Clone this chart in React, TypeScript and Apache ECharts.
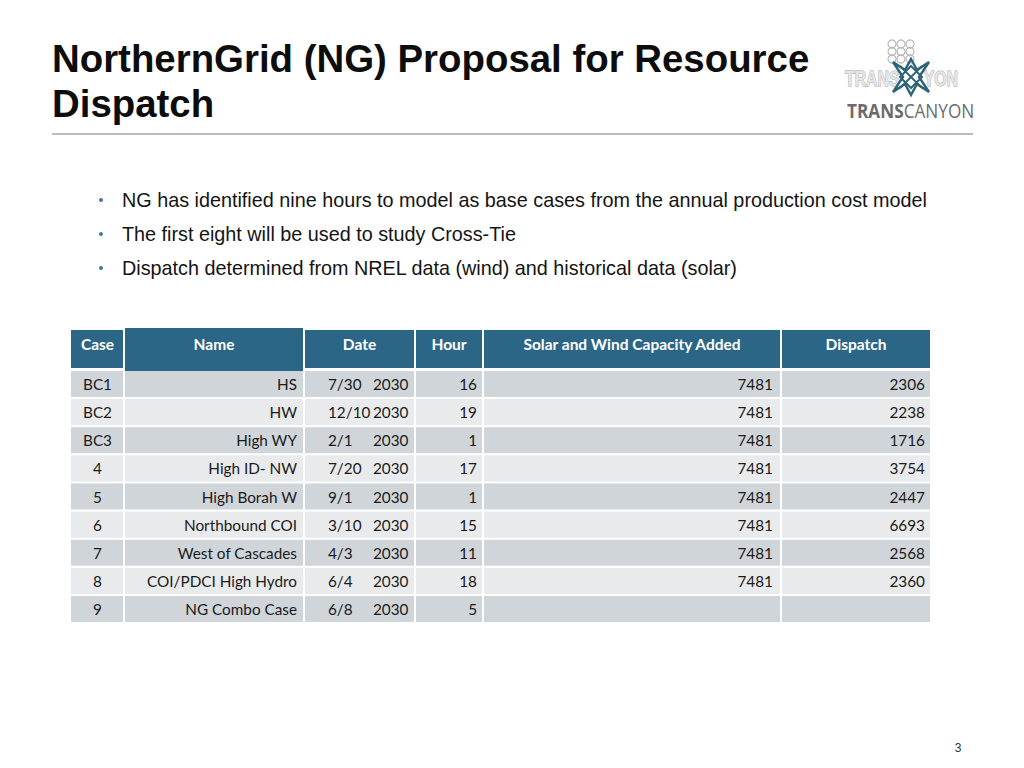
import React, { useEffect, useRef } from "react";
import * as echarts from "echarts";

const titleLines = ["NorthernGrid (NG) Proposal for Resource", "Dispatch"];
const bullets = [
  "NG has identified nine hours to model as base cases from the annual production cost model",
  "The first eight will be used to study Cross-Tie",
  "Dispatch determined from NREL data (wind) and historical data (solar)",
];
const headers = ["Case", "Name", "Date", "Hour", "Solar and Wind Capacity Added", "Dispatch"];
const cases = ["BC1", "BC2", "BC3", "4", "5", "6", "7", "8", "9"];
const names = ["HS", "HW", "High WY", "High ID- NW", "High Borah W", "Northbound COI", "West of Cascades", "COI/PDCI High Hydro", "NG Combo Case"];
const dates = ["7/30", "12/10", "2/1", "7/20", "9/1", "3/10", "4/3", "6/4", "6/8"];
const years = ["2030", "2030", "2030", "2030", "2030", "2030", "2030", "2030", "2030"];
const hours = [16, 19, 1, 17, 1, 15, 11, 18, 5];
const capacityAdded = [7481, 7481, 7481, 7481, 7481, 7481, 7481, 7481, null];
const dispatch = [2306, 2238, 1716, 3754, 2447, 6693, 2568, 2360, null];
const pageNumber = "3";

// column edges in table units (layout)
const colEdges = [0, 53, 233, 344, 412, 710, 860];

const TABLE_LEFT = 71;
const TABLE_TOP = 370;
const TABLE_W = 860;
const TABLE_H = 253;
const HEADER_COLOR = "#2c6686";
const ROW_DARK = "#d0d5d9";
const ROW_LIGHT = "#e8eaec";
const CELL_FONT = "Lato";

export default function App() {
  const ref = useRef<HTMLDivElement>(null);

  useEffect(() => {
    if (!ref.current) return;
    const chart = echarts.init(ref.current, undefined, { renderer: "svg" });

    const graphics: any[] = [];

    // Title
    titleLines.forEach((t, i) => {
      graphics.push({
        type: "text",
        x: 52,
        y: 58 + i * 45,
        style: {
          text: t,
          fill: "#0d0d0d",
          fontFamily: "Liberation Sans, Arial",
          fontWeight: "bold",
          fontSize: 38.4,
          textAlign: "left",
          align: "left",
          textVerticalAlign: "middle",
          verticalAlign: "middle",
        },
      });
    });
    // Rule
    graphics.push({
      type: "line",
      shape: { x1: 52, y1: 134, x2: 973, y2: 134 },
      style: { stroke: "#a6a6a6", lineWidth: 1.5 },
    });

    // Bullets
    bullets.forEach((b, i) => {
      const y = 200 + i * 34;
      graphics.push({
        type: "circle",
        shape: { cx: 101, cy: y, r: 2 },
        style: { fill: "#3f7f9b" },
      });
      graphics.push({
        type: "text",
        x: 122,
        y,
        style: {
          text: b,
          fill: "#141414",
          fontFamily: "Liberation Sans, Arial",
          fontSize: 19.8,
          textAlign: "left",
          align: "left",
          textVerticalAlign: "middle",
          verticalAlign: "middle",
        },
      });
    });

    // Table header
    headers.forEach((h, c) => {
      const x0 = TABLE_LEFT + colEdges[c];
      const x1 = TABLE_LEFT + colEdges[c + 1];
      const isName = c === 1;
      const top = isName ? 328 : 330;
      const bottom = isName ? 371 : 368;
      graphics.push({
        type: "rect",
        shape: { x: x0 + (c === 0 ? 0 : 1), y: top, width: x1 - x0 - (c === 0 ? 1 : 2), height: bottom - top },
        style: { fill: HEADER_COLOR },
      });
      graphics.push({
        type: "text",
        x: (x0 + x1) / 2,
        y: 344,
        style: {
          text: h,
          fill: "#ffffff",
          fontFamily: CELL_FONT,
          fontWeight: "bold",
          fontSize: 15.5,
          textAlign: "center",
          align: "center",
          textVerticalAlign: "middle",
          verticalAlign: "middle",
        },
      });
    });

    // Logo
    const lx = 911;
    const ly = 77;
    // gray lattice
    for (let r = 0; r < 3; r++) {
      for (let k = 0; k < 3; k++) {
        graphics.push({
          type: "circle",
          shape: { cx: 892 + k * 9, cy: 44 + r * 7.5, r: 4 },
          style: { fill: "none", stroke: "#b8b8b8", lineWidth: 1.2 },
        });
      }
    }
    const outline = {
      fill: "#e6e6e6",
      stroke: "#a0a0a0",
      lineWidth: 1,
      fontFamily: "Liberation Sans, Arial",
      fontWeight: "bold",
      fontSize: 22,
      textVerticalAlign: "middle",
      verticalAlign: "middle",
    };
    graphics.push({
      type: "text",
      x: 845,
      y: 79,
      scaleX: 0.72,
      style: { ...outline, text: "TRANS", textAlign: "left", align: "left" },
    });
    graphics.push({
      type: "text",
      x: 958,
      y: 79,
      scaleX: 0.72,
      style: { ...outline, text: "YON", textAlign: "right", align: "right" },
    });
    // teal star
    const s = 18;
    graphics.push({
      type: "polygon",
      shape: {
        points: [
          [lx, ly - s], [lx + 6, ly - 7], [lx + s, ly - s + 3], [lx + 8, ly],
          [lx + s, ly + s - 3], [lx + 6, ly + 7], [lx, ly + s], [lx - 6, ly + 7],
          [lx - s, ly + s - 3], [lx - 8, ly], [lx - s, ly - s + 3], [lx - 6, ly - 7],
        ],
      },
      style: { fill: "none", stroke: "#2f6378", lineWidth: 2.4 },
    });
    graphics.push({
      type: "polygon",
      shape: { points: [[lx, ly - 11], [lx + 11, ly], [lx, ly + 11], [lx - 11, ly]] },
      style: { fill: "none", stroke: "#2f6378", lineWidth: 2 },
    });
    graphics.push({
      type: "line",
      shape: { x1: lx - 11, y1: ly - 11, x2: lx + 11, y2: ly + 11 },
      style: { stroke: "#2f6378", lineWidth: 1.8 },
    });
    graphics.push({
      type: "line",
      shape: { x1: lx + 11, y1: ly - 11, x2: lx - 11, y2: ly + 11 },
      style: { stroke: "#2f6378", lineWidth: 1.8 },
    });
    graphics.push({
      type: "text",
      x: 847,
      y: 110,
      scaleX: 0.86,
      style: {
        text: "{b|TRANS}{n|CANYON}",
        rich: {
          b: { fontFamily: "Open Sans", fontWeight: "bold", fontSize: 20, fill: "#6a6b6d", color: "#6a6b6d" },
          n: { fontFamily: "Open Sans", fontSize: 20, fill: "#6a6b6d", color: "#6a6b6d" },
        },
        textAlign: "left",
        align: "left",
        textVerticalAlign: "middle",
        verticalAlign: "middle",
      },
    });

    // Page number
    graphics.push({
      type: "text",
      x: 958,
      y: 748,
      style: {
        text: pageNumber,
        fill: "#333333",
        fontFamily: "Liberation Sans, Arial",
        fontSize: 12,
        textAlign: "center",
        align: "center",
        textVerticalAlign: "middle",
        verticalAlign: "middle",
      },
    });

    const textStyle = (text: string, align: string) => ({
      text,
      fill: "#1a1a1a",
      fontFamily: CELL_FONT,
      fontSize: 15.3,
      textAlign: align,
      align,
      textVerticalAlign: "middle",
      verticalAlign: "middle",
    });

    const option: any = {
      animation: false,
      backgroundColor: "#ffffff",
      grid: { left: TABLE_LEFT, top: TABLE_TOP, width: TABLE_W, height: TABLE_H },
      xAxis: { type: "value", min: 0, max: TABLE_W, show: false },
      yAxis: { type: "category", data: cases, inverse: true, show: false },
      graphic: { elements: graphics },
      series: [
        {
          type: "custom",
          silent: true,
          clip: false,
          data: cases.map((_, i) => [0, i]),
          encode: { x: 0, y: 1 },
          renderItem: (params: any, api: any) => {
            const i = api.value(1);
            const center = api.coord([0, i]);
            const bandH = api.size([0, 1])[1];
            const top = center[1] - bandH / 2;
            const fill = i % 2 === 0 ? ROW_DARK : ROW_LIGHT;
            const children: any[] = [];
            for (let c = 0; c < colEdges.length - 1; c++) {
              const x0 = api.coord([colEdges[c], i])[0];
              const x1 = api.coord([colEdges[c + 1], i])[0];
              children.push({
                type: "rect",
                shape: { x: x0 + (c === 0 ? 0 : 1), y: top + 1, width: x1 - x0 - (c === 0 ? 1 : 2), height: bandH - 2 },
                style: { fill },
              });
              const cy = center[1];
              if (c === 0) {
                children.push({ type: "text", x: (x0 + x1) / 2, y: cy, style: textStyle(cases[i], "center") });
              } else if (c === 1) {
                children.push({ type: "text", x: x1 - 7, y: cy, style: textStyle(names[i], "right") });
              } else if (c === 2) {
                children.push({ type: "text", x: x0 + 24, y: cy, style: textStyle(dates[i], "left") });
                children.push({ type: "text", x: x0 + 69, y: cy, style: textStyle(years[i], "left") });
              } else if (c === 3) {
                children.push({ type: "text", x: x1 - 6, y: cy, style: textStyle(String(hours[i]), "right") });
              } else if (c === 4) {
                const v = capacityAdded[i];
                if (v != null) children.push({ type: "text", x: x1 - 8, y: cy, style: textStyle(String(v), "right") });
              } else if (c === 5) {
                const v = dispatch[i];
                if (v != null) children.push({ type: "text", x: x1 - 6, y: cy, style: textStyle(String(v), "right") });
              }
            }
            return { type: "group", children };
          },
        },
      ],
    };

    chart.setOption(option);
    return () => chart.dispose();
  }, []);

  return (
    <div
      ref={ref}
      style={{ position: "fixed", left: 0, top: 0, width: 1024, height: 768, background: "#ffffff" }}
    />
  );
}
